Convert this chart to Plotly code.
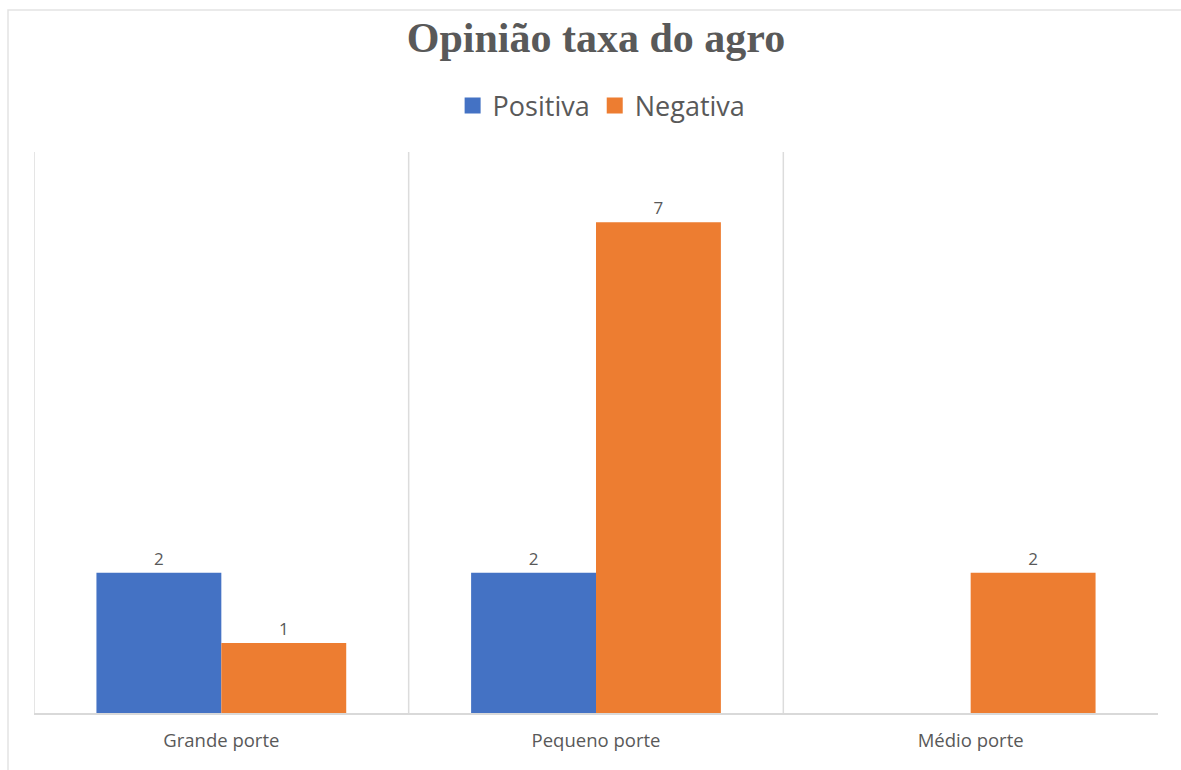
import plotly.graph_objects as go

categories = ["Grande porte", "Pequeno porte", "Médio porte"]
positiva = [2, 2, None]
negativa = [1, 7, 2]
series_names = ["Positiva", "Negativa"]
series_colors = ["#4472C4", "#ED7D31"]

fig = go.Figure()
for name, vals, col in zip(series_names, [positiva, negativa], series_colors):
    fig.add_trace(go.Bar(
        name=name, x=categories, y=vals, marker_color=col, marker_line_width=0,
        text=[str(v) if v is not None else "" for v in vals], textposition="outside",
        textfont=dict(size=17, color="#595959", family="Open Sans"), cliponaxis=False,
        showlegend=False, legendgroup=name,
    ))
# legend entries with larger square swatches
for name, col in zip(series_names, series_colors):
    fig.add_trace(go.Scatter(
        name=name, x=[None], y=[None], mode="markers", legendgroup=name,
        marker=dict(symbol="square", size=20, color=col), showlegend=True,
    ))

shapes = []
for xv in [-0.5, 0.5, 1.5]:
    shapes.append(dict(type="line", xref="x", yref="paper", x0=xv, x1=xv, y0=0, y1=1,
                       line=dict(color="#dcdcdc", width=1.5), layer="below"))
# outer chart border
shapes.append(dict(type="rect", xref="paper", yref="paper",
                   x0=(8 - 34) / 1124, x1=(1220 - 34) / 1124,
                   y0=(713 - 800) / 561, y1=(713 - 10) / 561,
                   line=dict(color="#e3e3e3", width=1.5), layer="below"))

fig.update_layout(
    width=1181, height=770,
    margin=dict(l=34, r=23, t=152, b=57),
    paper_bgcolor="white", plot_bgcolor="white",
    barmode="group", bargap=1/3, bargroupgap=0,
    title=dict(text="<b>Opinião taxa do agro</b>", x=596/1181, xref="container",
               y=1 - 37/770, yref="container", xanchor="center", yanchor="middle",
               font=dict(family="Liberation Serif", size=42, color="#595959")),
    legend=dict(orientation="h", x=0.505, xanchor="center", y=(713 - 106) / 561,
                yanchor="middle", font=dict(family="Open Sans", size=27, color="#595959"),
                itemsizing="trace", traceorder="normal", itemwidth=30, tracegroupgap=0),
    xaxis=dict(showline=True, linecolor="#d9d9d9", linewidth=2, showgrid=False,
               ticks="", tickfont=dict(family="Open Sans", size=18.5, color="#595959"),
               range=[-0.5, 2.5], ticklabelstandoff=10),
    yaxis=dict(range=[0, 8], showgrid=False, showticklabels=False, zeroline=False,
               showline=False),
    shapes=shapes,
    showlegend=True,
)

fig.write_html("out.html")
